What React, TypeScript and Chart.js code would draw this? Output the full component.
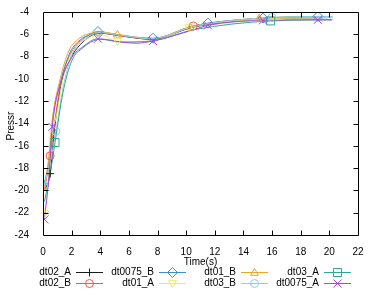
import React, { useEffect, useRef } from "react";
import { Chart, registerables } from "chart.js";

Chart.register(...registerables);

const seriesNames = ["dt02_A", "dt02_B", "dt0075_B", "dt01_A", "dt01_B", "dt03_B", "dt03_A", "dt0075_A"];
const seriesColors = ["#1a1a1a", "#f0584c", "#3f8fcc", "#f2e85a", "#eaa52a", "#88cff2", "#2fa888", "#a846e6"];
const markerStyles = ["cross", "circle", "diamond", "triDown", "triUp", "circle", "square", "x"];

const xTicks = [0, 2, 4, 6, 8, 10, 12, 14, 16, 18, 20, 22];
const yTicks = [-24, -22, -20, -18, -16, -14, -12, -10, -8, -6, -4];
const xTitle = "Time(s)";
const yTitle = "Pressr";

const t_dt02_A = [0.1, 0.5, 0.8, 1.3, 2.0, 2.7, 3.4, 4.0, 5.2, 7.6, 10.5, 15.0, 20.2];
const p_dt02_A = [-20.0, -18.5, -14.5, -10.3, -8.0, -6.8, -6.1, -5.9, -6.1, -6.45, -5.35, -4.65, -4.5];
const m_dt02_A = [1];

const t_dt02_B = [0.1, 0.5, 0.8, 1.3, 1.9, 2.6, 3.3, 4.0, 5.2, 7.6, 10.5, 15.0, 20.2];
const p_dt02_B = [-20.0, -16.9, -14.0, -10.0, -7.8, -6.6, -6.05, -5.85, -6.1, -6.4, -5.25, -4.6, -4.45];
const m_dt02_B = [1, 10];

const t_dt0075_B = [0.05, 0.45, 0.7, 1.3, 1.9, 2.6, 3.3, 3.84, 5.2, 7.68, 10.4, 11.52, 15.36, 19.2, 20.2];
const p_dt0075_B = [-19.6, -17.0, -13.4, -9.9, -7.6, -6.5, -6.0, -5.75, -6.05, -6.35, -5.3, -5.0, -4.55, -4.4, -4.4];
const m_dt0075_B = [0, 7, 9, 11, 12, 13];

const t_dt01_A = [0.1, 0.3, 0.6, 0.9, 1.4, 2.0, 2.7, 3.4, 4.0, 5.2, 7.6, 10.2, 15.0, 20.2];
const p_dt01_A = [-22.1, -20.0, -15.0, -13.5, -10.0, -7.8, -6.7, -6.2, -6.0, -6.65, -6.6, -5.4, -4.65, -4.5];
const m_dt01_A = [0, 9, 11];

const t_dt01_B = [0.1, 0.4, 0.65, 1.2, 1.8, 2.5, 3.2, 3.9, 5.2, 7.6, 10.3, 15.1, 20.2];
const p_dt01_B = [-20.0, -17.0, -13.6, -10.0, -7.5, -6.4, -5.95, -5.8, -6.0, -6.4, -5.35, -4.55, -4.4];
const m_dt01_B = [8, 10, 11];

const t_dt03_B = [0.05, 0.5, 0.9, 1.4, 2.0, 2.7, 3.4, 4.0, 5.2, 7.6, 10.5, 16.0, 20.2];
const p_dt03_B = [-19.6, -17.5, -14.7, -10.8, -7.9, -6.6, -6.05, -5.85, -6.05, -6.4, -5.3, -4.5, -4.4];
const m_dt03_B = [0, 2, 11];

const t_dt03_A = [0.1, 0.5, 0.84, 1.4, 2.0, 2.8, 3.5, 4.0, 5.5, 7.6, 10.5, 15.9, 20.2];
const p_dt03_A = [-21.0, -18.5, -15.7, -11.2, -8.4, -7.2, -6.6, -6.45, -6.7, -6.6, -5.6, -4.8, -4.7];
const m_dt03_A = [2, 11];

const t_dt0075_A = [0.1, 0.4, 0.65, 1.2, 2.0, 2.8, 3.84, 5.5, 6.5, 7.68, 10.5, 11.52, 15.36, 19.2, 20.2];
const p_dt0075_A = [-22.6, -19.0, -14.3, -10.5, -8.1, -7.1, -6.4, -6.7, -6.8, -6.6, -5.6, -5.2, -4.75, -4.7, -4.7];
const m_dt0075_A = [0, 2, 6, 9, 11, 12, 13];

const seriesTimes = [t_dt02_A, t_dt02_B, t_dt0075_B, t_dt01_A, t_dt01_B, t_dt03_B, t_dt03_A, t_dt0075_A];
const seriesValues = [p_dt02_A, p_dt02_B, p_dt0075_B, p_dt01_A, p_dt01_B, p_dt03_B, p_dt03_A, p_dt0075_A];
const seriesMarks = [m_dt02_A, m_dt02_B, m_dt0075_B, m_dt01_A, m_dt01_B, m_dt03_B, m_dt03_A, m_dt0075_A];

const FONT = "'Liberation Sans', Arial, sans-serif";

function drawMarker(ctx: CanvasRenderingContext2D, style: string, x: number, y: number, color: string) {
  ctx.save();
  ctx.strokeStyle = color;
  ctx.lineWidth = 1;
  ctx.beginPath();
  const r = 4;
  if (style === "cross") {
    ctx.moveTo(x - r, y); ctx.lineTo(x + r, y);
    ctx.moveTo(x, y - r); ctx.lineTo(x, y + r);
  } else if (style === "x") {
    ctx.moveTo(x - r, y - r); ctx.lineTo(x + r, y + r);
    ctx.moveTo(x - r, y + r); ctx.lineTo(x + r, y - r);
  } else if (style === "circle") {
    ctx.arc(x, y, r, 0, Math.PI * 2);
  } else if (style === "square") {
    ctx.rect(x - r, y - r, 2 * r, 2 * r);
  } else if (style === "diamond") {
    ctx.moveTo(x, y - r - 1); ctx.lineTo(x + r + 1, y); ctx.lineTo(x, y + r + 1); ctx.lineTo(x - r - 1, y); ctx.closePath();
  } else if (style === "triUp") {
    ctx.moveTo(x, y - r); ctx.lineTo(x + r, y + r * 0.7); ctx.lineTo(x - r, y + r * 0.7); ctx.closePath();
  } else if (style === "triDown") {
    ctx.moveTo(x, y + r); ctx.lineTo(x + r, y - r * 0.7); ctx.lineTo(x - r, y - r * 0.7); ctx.closePath();
  }
  ctx.stroke();
  ctx.restore();
}

const markerPlugin = {
  id: "gnuMarkers",
  afterDatasetsDraw(chart: any) {
    const ctx = chart.ctx as CanvasRenderingContext2D;
    const area = chart.chartArea;
    ctx.save();
    ctx.beginPath();
    ctx.rect(area.left, area.top, area.right - area.left, area.bottom - area.top);
    ctx.clip();
    for (let i = 0; i < chart.data.datasets.length; i++) {
      const meta = chart.getDatasetMeta(i);
      const marks = seriesMarks[i];
      for (const idx of marks) {
        const el = meta.data[idx];
        if (el) drawMarker(ctx, markerStyles[i], el.x, el.y, seriesColors[i]);
      }
    }
    ctx.restore();
  },
};

const framePlugin = {
  id: "gnuFrame",
  afterDraw(chart: any) {
    const ctx = chart.ctx as CanvasRenderingContext2D;
    const { left, right, top, bottom } = chart.chartArea;
    const xs = chart.scales.x;
    const ys = chart.scales.y;
    ctx.save();
    ctx.strokeStyle = "#000";
    ctx.lineWidth = 1;
    ctx.beginPath();
    const L = Math.round(left) + 0.5, R = Math.round(right) + 0.5, T = Math.round(top) + 0.5, B = Math.round(bottom) + 0.5;
    ctx.rect(L, T, R - L, B - T);
    const tl = 5;
    for (const v of xTicks) {
      const px = Math.round(xs.getPixelForValue(v)) + 0.5;
      if (v === xTicks[0] || v === xTicks[xTicks.length - 1]) continue;
      ctx.moveTo(px, B); ctx.lineTo(px, B - tl);
      ctx.moveTo(px, T); ctx.lineTo(px, T + tl);
    }
    for (const v of yTicks) {
      const py = Math.round(ys.getPixelForValue(v)) + 0.5;
      if (v === yTicks[0] || v === yTicks[yTicks.length - 1]) continue;
      ctx.moveTo(L, py); ctx.lineTo(L + tl, py);
      ctx.moveTo(R, py); ctx.lineTo(R - tl, py);
    }
    ctx.stroke();

    ctx.font = "10px " + FONT;
    ctx.fillStyle = "#000";
    ctx.textBaseline = "middle";
    // axis titles
    ctx.textAlign = "center";
    ctx.fillText(xTitle, (left + right) / 2, 262);
    ctx.save();
    ctx.translate(11, 126);
    ctx.rotate(-Math.PI / 2);
    ctx.fillText(yTitle, 0, 0);
    ctx.restore();

    // legend
    const lineStarts = [76, 159, 241, 324];
    const rowsY = [272, 283];
    ctx.textAlign = "right";
    for (let i = 0; i < seriesNames.length; i++) {
      const col = Math.floor(i / 2);
      const row = i % 2;
      const x0 = lineStarts[col];
      const y = rowsY[row];
      ctx.fillStyle = "#000";
      ctx.fillText(seriesNames[i], x0 - 5, y);
      ctx.beginPath();
      ctx.strokeStyle = seriesColors[i];
      ctx.lineWidth = 1;
      ctx.moveTo(x0, Math.round(y) + 0.5);
      ctx.lineTo(x0 + 27, Math.round(y) + 0.5);
      ctx.stroke();
      drawMarker(ctx, markerStyles[i], x0 + 13.5, Math.round(y) + 0.5, seriesColors[i]);
    }
    ctx.restore();
  },
};

export default function App() {
  const ref = useRef<HTMLCanvasElement | null>(null);
  useEffect(() => {
    document.body.style.margin = "0";
    const canvas = ref.current;
    if (!canvas) return;
    const datasets = seriesNames.map((name, i) => ({
      label: name,
      data: seriesTimes[i].map((t, j) => ({ x: t, y: seriesValues[i][j] })),
      borderColor: seriesColors[i],
      backgroundColor: seriesColors[i],
      borderWidth: 1,
      pointRadius: 0,
      tension: 0.4,
      cubicInterpolationMode: "monotone" as const,
      fill: false,
      order: seriesNames.length - i,
    }));
    const chart = new Chart(canvas, {
      type: "line",
      data: { datasets },
      options: {
        animation: false,
        responsive: false,
        devicePixelRatio: 1,
        layout: { padding: { left: 0, right: 16, top: 11, bottom: 36 } },
        plugins: { legend: { display: false }, tooltip: { enabled: false } },
        scales: {
          x: {
            type: "linear",
            min: 0,
            max: 22,
            grid: { display: false },
            border: { display: false },
            ticks: { stepSize: 2, color: "#000", font: { size: 10, family: FONT }, padding: 3, maxRotation: 0 },
            title: { display: false },
            afterFit: (s: any) => { s.height = 30; },
          },
          y: {
            min: -24,
            max: -4,
            grid: { display: false },
            border: { display: false },
            ticks: { stepSize: 2, color: "#000", font: { size: 10, family: FONT }, padding: 6 },
            title: { display: false },
            afterFit: (s: any) => { s.width = 43; },
          },
        },
      },
      plugins: [markerPlugin, framePlugin],
    });
    return () => chart.destroy();
  }, []);
  return (
    <div style={{ width: 374, height: 301 }}>
      <canvas ref={ref} width={374} height={301} style={{ display: "block", width: 374, height: 301 }} />
    </div>
  );
}
